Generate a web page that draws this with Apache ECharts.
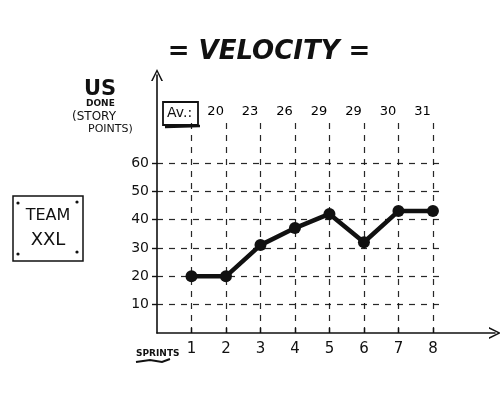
<!DOCTYPE html>
<html><head><meta charset="utf-8">
<script src="https://cdn.jsdelivr.net/npm/echarts@6/dist/echarts.min.js"></script>
<style>html,body{margin:0;padding:0;background:#fff}#c{width:500px;height:396px}</style>
</head><body><div id="c"></div>
<script>
const sprints = [1, 2, 3, 4, 5, 6, 7, 8];
const storyPoints = [20, 20, 31, 37, 42, 32, 43, 43];
const avgSprints = [2, 3, 4, 5, 6, 7, 8];
const avgLabels = [20, 23, 26, 29, 29, 30, 31];
const yTicks = [10, 20, 30, 40, 50, 60];

const FONT = '"DejaVu Sans", "Liberation Sans", sans-serif';
const INK = '#111';
const gridTop = 76;   // vertical dashed grid lines reach up to this value
const gridRight = 8.3; // horizontal dashed grid lines reach to this x value

const vLines = sprints.map(s => [{coord: [s, 0]}, {coord: [s, gridTop]}]);
const hLines = yTicks.map(v => [{coord: [0, v]}, {coord: [gridRight, v]}]);
const chevron = 'path://M5,0 L10,10 L8.6,10 L5,2.6 L1.4,10 L0,10 Z';

const chart = echarts.init(document.getElementById('c'), null, {renderer: 'canvas'});
chart.setOption({
  animation: false,
  backgroundColor: '#fff',
  grid: {left: 157, right: 5, top: 75, bottom: 63, containLabel: false},
  xAxis: {
    type: 'value', min: 0, max: 9.8, interval: 1,
    axisLine: {show: true, symbol: ['none', chevron], symbolSize: [12, 14], lineStyle: {color: INK, width: 1.6}},
    axisTick: {show: true, customValues: sprints, length: 5, inside: true, lineStyle: {color: INK, width: 1.4}},
    axisLabel: {customValues: sprints, color: INK, fontFamily: FONT, fontSize: 15, margin: 9},
    splitLine: {show: false}
  },
  yAxis: {
    type: 'value', min: 0, max: 91, interval: 10,
    axisLine: {show: true, symbol: ['none', chevron], symbolSize: [12, 14], lineStyle: {color: INK, width: 1.6}},
    axisTick: {show: true, customValues: yTicks, length: 5, lineStyle: {color: INK, width: 1.4}},
    axisLabel: {customValues: yTicks, color: INK, fontFamily: FONT, fontSize: 14, margin: 8},
    splitLine: {show: false}
  },
  series: [
    {
      type: 'line', data: [], silent: true,
      markLine: {
        silent: true, symbol: ['none', 'none'], label: {show: false},
        lineStyle: {color: INK, type: [6, 6], width: 1.2, opacity: 0.9},
        data: vLines.concat(hLines)
      }
    },
    {
      type: 'line',
      data: sprints.map((s, i) => [s, storyPoints[i]]),
      symbol: 'circle', symbolSize: 12,
      lineStyle: {color: INK, width: 4.5},
      itemStyle: {color: INK},
      z: 5
    },
    {
      type: 'scatter',
      data: avgSprints.map((s, i) => [s - 0.3, 78, avgLabels[i]]),
      symbolSize: 1, itemStyle: {color: 'transparent', opacity: 1},
      label: {show: true, position: 'inside', opacity: 1, formatter: p => String(p.value[2]),
              color: '#000', fontFamily: FONT, fontSize: 13}
    }
  ],
  graphic: [
    {type: 'text', x: 269, y: 52, style: {text: '= VELOCITY =', font: 'italic bold 26px ' + FONT, fill: INK, align: 'center', verticalAlign: 'middle'}},
    {type: 'text', x: 84, y: 79, style: {text: 'US', font: 'bold 21px ' + FONT, fill: INK}},
    {type: 'text', x: 86, y: 99, style: {text: 'DONE', font: 'bold 9px ' + FONT, fill: INK}},
    {type: 'text', x: 72, y: 111, style: {text: '(STORY', font: '12px ' + FONT, fill: INK}},
    {type: 'text', x: 88, y: 124, style: {text: 'POINTS)', font: '11px ' + FONT, fill: INK}},
    {type: 'rect', shape: {x: 163, y: 102, width: 35, height: 23}, style: {fill: 'none', stroke: INK, lineWidth: 1.8}},
    {type: 'line', shape: {x1: 165, y1: 127, x2: 200, y2: 126}, style: {stroke: INK, lineWidth: 2.5}},
    {type: 'text', x: 167, y: 106, style: {text: 'Av.:', font: '14px ' + FONT, fill: INK}},
    {type: 'rect', shape: {x: 13, y: 196, width: 70, height: 65}, style: {fill: 'none', stroke: INK, lineWidth: 1.5}},
    {type: 'circle', shape: {cx: 18, cy: 203, r: 1.6}, style: {fill: INK}},
    {type: 'circle', shape: {cx: 77, cy: 202, r: 1.6}, style: {fill: INK}},
    {type: 'circle', shape: {cx: 18, cy: 254, r: 1.6}, style: {fill: INK}},
    {type: 'circle', shape: {cx: 77, cy: 252, r: 1.6}, style: {fill: INK}},
    {type: 'text', x: 48, y: 216, style: {text: 'TEAM', font: '16px ' + FONT, fill: INK, align: 'center', verticalAlign: 'middle'}},
    {type: 'text', x: 48, y: 240, style: {text: 'XXL', font: '18px ' + FONT, fill: INK, align: 'center', verticalAlign: 'middle'}},
    {type: 'text', x: 136, y: 349, style: {text: 'SPRINTS', font: 'bold 9px ' + FONT, fill: INK}},
    {type: 'polyline', shape: {points: [[136, 362], [150, 360], [162, 362], [170, 359]]}, style: {stroke: INK, lineWidth: 2, fill: 'none'}}
  ]
});
</script></body></html>
